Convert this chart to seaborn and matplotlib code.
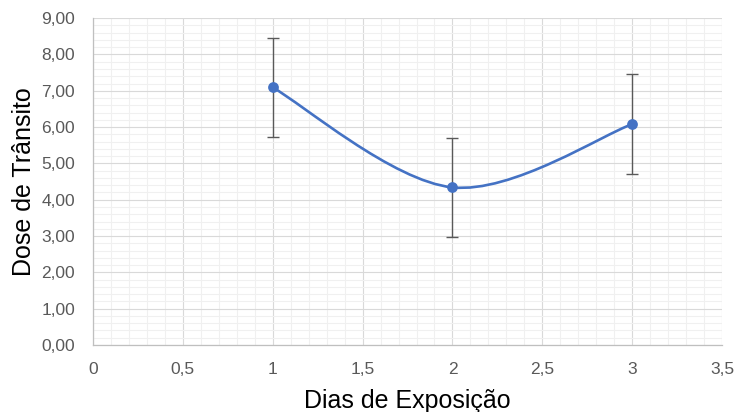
import matplotlib
matplotlib.use('Agg')
import matplotlib.pyplot as plt
import seaborn as sns
import numpy as np
import pandas as pd
from matplotlib.path import Path
from matplotlib.patches import PathPatch
from matplotlib.ticker import MultipleLocator, FuncFormatter

dias = [1, 2, 3]
dose = [7.09, 4.34, 6.08]
erro = [1.37, 1.37, 1.37]

df = pd.DataFrame({'dias': dias, 'dose': dose})

sns.set_style('white')
plt.rcParams['font.family'] = ['Liberation Sans', 'DejaVu Sans']

fig = plt.figure(figsize=(7.36, 4.12), dpi=100)
ax = fig.add_axes([0.1264, 0.1626, 0.8546, 0.7934])

blue = '#4472C4'

# smoothed line (Excel-style bezier through the points)
pts = np.column_stack([dias, dose]).astype(float)
ext = np.vstack([pts[0], pts, pts[-1]])
verts = [tuple(pts[0])]
codes = [Path.MOVETO]
for i in range(1, len(ext) - 2):
    p0, p1, p2, p3 = ext[i - 1], ext[i], ext[i + 1], ext[i + 2]
    c1 = p1 + (p2 - p0) / 6
    c2 = p2 - (p3 - p1) / 6
    verts += [tuple(c1), tuple(c2), tuple(p2)]
    codes += [Path.CURVE4] * 3
ax.add_patch(PathPatch(Path(verts, codes), fill=False, edgecolor=blue, lw=1.9, zorder=3))

ax.errorbar(dias, dose, yerr=erro, fmt='none', ecolor='#595959', elinewidth=1, capsize=4, capthick=1, zorder=4)
sns.scatterplot(data=df, x='dias', y='dose', ax=ax, color=blue, s=60, edgecolor=blue, linewidth=0, zorder=5)

ax.set_xlim(0, 3.5)
ax.set_ylim(0, 9)
ax.xaxis.set_major_locator(MultipleLocator(0.5))
ax.xaxis.set_minor_locator(MultipleLocator(0.1))
ax.yaxis.set_major_locator(MultipleLocator(1))
ax.yaxis.set_minor_locator(MultipleLocator(0.2))

ax.xaxis.set_major_formatter(FuncFormatter(lambda v, p: ('%g' % v).replace('.', ',')))
ax.yaxis.set_major_formatter(FuncFormatter(lambda v, p: ('%.2f' % v).replace('.', ',')))

ax.grid(which='minor', color='#f0f0f0', lw=0.8, zorder=0)
ax.grid(which='major', color='#d9d9d9', lw=0.8, zorder=1)
ax.set_axisbelow(True)

for s in ['top', 'right']:
    ax.spines[s].set_visible(False)
for s in ['left', 'bottom']:
    ax.spines[s].set_color('#bfbfbf')
    ax.spines[s].set_linewidth(0.9)

ax.tick_params(which='major', direction='out', length=4, width=0.9, color='#bfbfbf',
               labelsize=12.5, labelcolor='#595959')
ax.tick_params(axis='y', which='major', pad=9)
ax.tick_params(axis='x', which='major', pad=8)
ax.tick_params(which='minor', length=0)

ax.set_xlabel('Dias de Exposição', fontsize=18, color='black', labelpad=9)
ax.set_ylabel('Dose de Trânsito', fontsize=18, color='black', labelpad=4)

plt.savefig('out.png', dpi=100)
plt.close()
